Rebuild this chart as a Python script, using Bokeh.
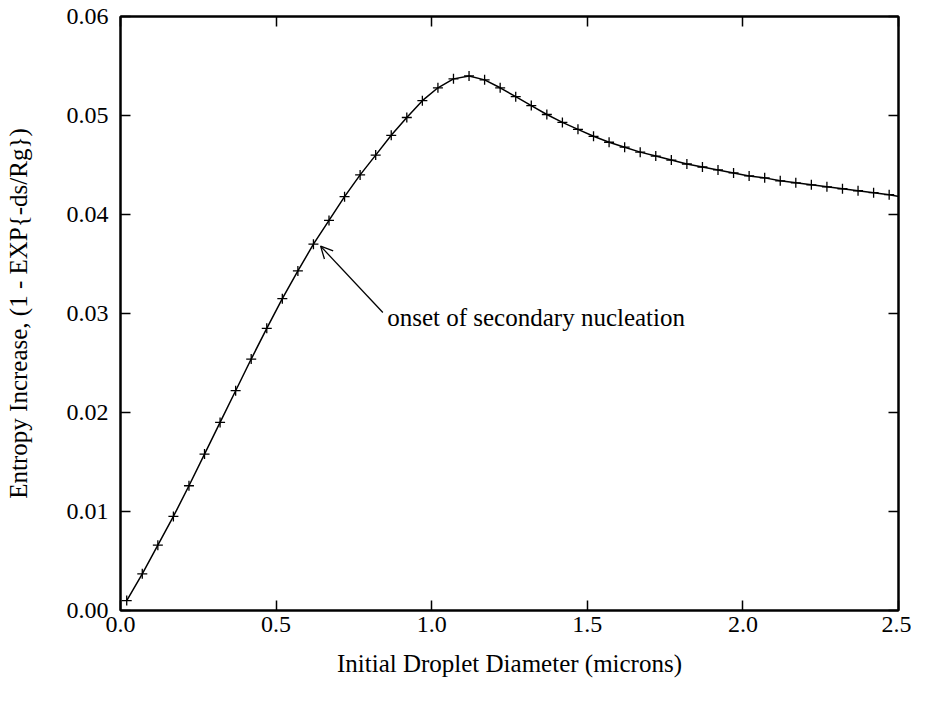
from bokeh.plotting import figure
from bokeh.models import LinearAxis, Range1d, FixedTicker, Arrow, OpenHead, Label
from bokeh.embed import file_html
from bokeh.resources import INLINE

# Data
diameter = [0.02, 0.07, 0.12, 0.17, 0.22, 0.27, 0.32, 0.37, 0.42, 0.47,
            0.52, 0.57, 0.62, 0.67, 0.72, 0.77, 0.82, 0.87, 0.92, 0.97,
            1.02, 1.07, 1.12, 1.17, 1.22, 1.27, 1.32, 1.37, 1.42, 1.47,
            1.52, 1.57, 1.62, 1.67, 1.72, 1.77, 1.82, 1.87, 1.92, 1.97,
            2.02, 2.07, 2.12, 2.17, 2.22, 2.27, 2.32, 2.37, 2.42, 2.47, 2.52]
entropy = [0.0010, 0.0037, 0.0066, 0.0095, 0.0126, 0.0158, 0.0190, 0.0222, 0.0254, 0.0285,
           0.0315, 0.0343, 0.0370, 0.0394, 0.0418, 0.0440, 0.0460, 0.0480, 0.0498, 0.0515,
           0.0528, 0.0537, 0.0540, 0.0536, 0.0528, 0.0519, 0.0510, 0.0501, 0.0493, 0.0486,
           0.0479, 0.0473, 0.0468, 0.0463, 0.0459, 0.0455, 0.0451, 0.0448, 0.0445, 0.0442,
           0.0439, 0.0437, 0.0434, 0.0432, 0.0430, 0.0428, 0.0426, 0.0424, 0.0422, 0.0420, 0.0417]
x_ticks = [0.0, 0.5, 1.0, 1.5, 2.0, 2.5]
y_ticks = [0.00, 0.01, 0.02, 0.03, 0.04, 0.05, 0.06]
annot_text = "onset of secondary nucleation"
annot_tip = (0.643, 0.0368)
annot_tail = (0.843, 0.0301)
annot_text_pos = (0.857, 0.0296)

FONT = "Liberation Serif"

p = figure(width=911, height=686, output_backend="svg", toolbar_location=None,
           x_range=Range1d(0, 2.5), y_range=Range1d(0, 0.06),
           min_border_left=120, min_border_right=13, min_border_top=16, min_border_bottom=76)
p.background_fill_color = "white"
p.border_fill_color = "white"
p.outline_line_color = "black"
p.outline_line_width = 2
p.xgrid.visible = False
p.ygrid.visible = False

def style_axis(ax, ticks):
    ax.ticker = FixedTicker(ticks=ticks)
    ax.minor_tick_line_color = None
    ax.major_tick_in = 10
    ax.major_tick_out = 0
    ax.major_tick_line_width = 1.5
    ax.axis_line_width = 2
    ax.major_label_text_font = FONT
    ax.major_label_text_font_size = "24px"
    ax.major_label_text_color = "black"
    ax.axis_label_text_font = FONT
    ax.axis_label_text_font_size = "25px"
    ax.axis_label_text_font_style = "normal"
    ax.axis_label_text_color = "black"

xa = p.xaxis[0]
style_axis(xa, x_ticks)
xa.major_label_overrides = {t: f"{t:.1f}" for t in x_ticks}
xa.axis_label = "Initial Droplet Diameter (microns)"
xa.axis_label_standoff = 15
xa.major_label_standoff = 6

ya = p.yaxis[0]
style_axis(ya, y_ticks)
ya.major_label_overrides = {t: f"{t:.2f}" for t in y_ticks}
ya.axis_label = "Entropy Increase, (1 - EXP{-ds/Rg})"
ya.axis_label_standoff = 32
ya.major_label_standoff = 12

top = LinearAxis()
style_axis(top, x_ticks)
top.major_label_overrides = {t: "" for t in x_ticks}
top.major_label_standoff = 0
p.add_layout(top, "above")

right = LinearAxis()
style_axis(right, y_ticks)
right.major_label_overrides = {t: "" for t in y_ticks}
right.major_label_standoff = 0
p.add_layout(right, "right")

p.line(diameter, entropy, line_color="black", line_width=1.5)
p.scatter(diameter, entropy, marker="cross", size=10, line_color="black", line_width=1.3)

p.add_layout(Arrow(end=OpenHead(size=12, line_color="black", line_width=1.3),
                   x_start=annot_tail[0], y_start=annot_tail[1],
                   x_end=annot_tip[0], y_end=annot_tip[1],
                   line_color="black", line_width=1.3))
p.add_layout(Label(x=annot_text_pos[0], y=annot_text_pos[1], text=annot_text,
                   text_font=FONT, text_font_size="25px", text_color="black",
                   text_baseline="middle", text_align="left"))

open("out.html", "w").write(file_html(p, INLINE))
